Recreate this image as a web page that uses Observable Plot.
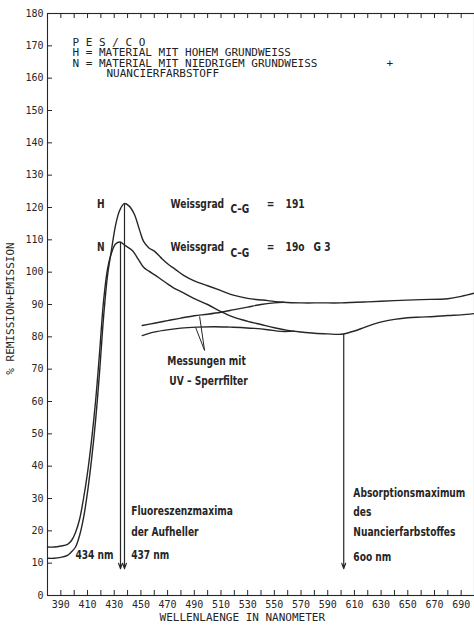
<!DOCTYPE html>
<html><head><meta charset="utf-8">
<script src="https://cdn.jsdelivr.net/npm/d3@7"></script>
<script src="https://cdn.jsdelivr.net/npm/@observablehq/plot@0.6"></script>
<style>
body{margin:0;background:#fff}
svg{display:block}
</style>
</head><body><div id="chart"></div>
<script>
// ---- data ----
const nNm  = [380,385,390,395,398,401,404,407,410,413,416,419,422,425,428,431,434.5,438,443.6,448,452,456,461,465,470,475,480,490,500,510,520,530,540,550,560,570,580,590,600,605,610,618,625,632,640,650,660,670,680,690,700];
const nVal = [15,15,15.3,15.8,17,19.5,23.5,30,38,48,60,75,91,101,106,108.7,109.3,108.3,106.7,104,101.5,100.3,99,97.8,96.4,95,94,91.8,90,87.8,86,84.8,83.8,82.8,82,81.5,81.1,80.9,80.8,81.2,81.8,83,84,84.8,85.4,85.9,86.1,86.3,86.6,86.8,87.2];
const hNm  = [380,385,390,395,398,401,404,407,410,413,416,419,422,425,428,431,434,437.5,441,445,449,452,456,460,465,470,476,482,490,500,510,520,530,545,557,570,585,600,620,640,660,680,690,700];
const hVal = [11.5,11.5,11.8,12.4,13.5,15,18.5,24,32,42,54,69,86,99,107,114.5,119,121.2,120.5,118,113,109.5,107.5,106.5,104.5,102.6,100.8,99,97.3,95.8,94.3,92.8,91.9,91.2,90.7,90.5,90.5,90.5,90.8,91.2,91.5,91.8,92.5,93.5];
const hUvNm  = [451,460,470,480,490,500,510,520,530,540,550,557];
const hUvVal = [83.5,84.2,85,85.8,86.5,87,87.6,88.4,89.2,90,90.5,90.7];
const nUvNm  = [451,458,467,480,492,505,517,525,535,545,555,565];
const nUvVal = [80.4,81.3,82,82.7,83,83.1,83,82.9,82.6,82.2,81.7,81.75];

const xMinorTicks = d3.range(390, 700, 10);
const xLabelTicks = d3.range(390, 700, 20);
const yTicks = d3.range(0, 181, 10);

const headerLines = ["P E S / C O", "H = MATERIAL MIT HOHEM GRUNDWEISS", "N = MATERIAL MIT NIEDRIGEM GRUNDWEISS", "NUANCIERFARBSTOFF", "+"];
const curveLabels = ["H", "N"];
const whiteness = ["191", "19o", "G 3"];
const arrowNm = [434.7, 437.7, 602];
const arrowFrom = [109.3, 121.2, 80.8];
const arrowTo = 8.3;

// ---- layout ----
const W = 474, Ht = 631, mL = 47, mR = 0, mT = 13, mB = 36;
const plotW = W - mL - mR, plotH = Ht - mT - mB;
const rows = (xs, ys) => xs.map((x, i) => ({x, y: ys[i]}));
const ink = "#262626";
const mono = "DejaVu Sans Mono";
const narrow = "DejaVu Sans Condensed";

const headerPos = [[398.7,171.1],[398.7,167.8],[398.7,164.4],[424.2,161.4],[634,164.4]];
const headerData = headerLines.map((t,i)=>({t, x: headerPos[i][0], y: headerPos[i][1]}));

const annoStart = [
  {t:"Weissgrad", x:472.2, y:121.2},
  {t:"C–G", x:517.2, y:119.6},
  {t:whiteness[0], x:558.4, y:121.2},
  {t:"Weissgrad", x:472.2, y:107.7},
  {t:"C–G", x:517.2, y:105.9},
  {t:whiteness[1], x:558.4, y:107.7},
  {t:whiteness[2], x:579.4, y:107.7},
  {t:"Fluoreszenzmaxima", x:442.7, y:26.3},
  {t:"der Aufheller", x:442.7, y:19.8},
  {t:"437 nm", x:442.7, y:12.7},
  {t:"Absorptionsmaximum", x:609.2, y:31.6},
  {t:"des", x:609.2, y:25.8},
  {t:"Nuancierfarbstoffes", x:609.2, y:19.6},
  {t:"6oo nm", x:609.2, y:12.1}
];
const annoMiddle = [
  {t:curveLabels[0], x:420, y:121.2},
  {t:curveLabels[1], x:420, y:107.7},
  {t:"=", x:547.1, y:121.2},
  {t:"=", x:547.1, y:107.7},
  {t:"Messungen mit", x:499.2, y:72.7},
  {t:"UV – Sperrfilter", x:500.7, y:66.5}
];
const annoEnd = [{t:"434 nm", x:429.5, y:12.7}];
const pointers = [
  {x1:497.7, y1:75.8, x2:494, y2:86.3},
  {x1:497.7, y1:75.8, x2:491, y2:82.9}
];
const arrows = arrowNm.map((x,i)=>({x, y1: arrowFrom[i], y2: arrowTo}));

const annoStyle = {fontSize: 13, fontFamily: narrow, fontWeight: "bold", fill: ink};

const chart = Plot.plot({
  width: W, height: Ht,
  marginLeft: mL, marginRight: mR, marginTop: mT, marginBottom: mB,
  style: {background: "#fff", color: ink, fontFamily: mono},
  x: {domain: [380, 700]},
  y: {domain: [0, 180]},
  marks: [
    Plot.frame({stroke: ink, strokeWidth: 1.1}),
    Plot.tickX(xMinorTicks, {x: d => d, insetTop: plotH - 5, stroke: ink}),
    Plot.tickX(xMinorTicks, {x: d => d, insetBottom: plotH - 5, stroke: ink}),
    Plot.tickY(yTicks, {y: d => d, insetRight: plotW - 5, stroke: ink}),
    Plot.axisX({ticks: xLabelTicks, tickSize: 0, tickPadding: 5, fontSize: 10, tickFormat: d => String(d), label: null}),
    Plot.axisY({ticks: yTicks, tickSize: 0, tickPadding: 4, fontSize: 10, tickFormat: d => String(d), label: null}),
    Plot.text(["% REMISSION+EMISSION"], {frameAnchor: "left", textAnchor: "middle", dx: -37, dy: 4, rotate: -90, fontSize: 11, fill: ink}),
    Plot.text(["WELLENLAENGE IN NANOMETER"], {x: 526, frameAnchor: "bottom", dy: 25, fontSize: 11, fill: ink}),
    Plot.line(rows(nNm, nVal), {x: "x", y: "y", curve: "catmull-rom", stroke: ink, strokeWidth: 1.4}),
    Plot.line(rows(hNm, hVal), {x: "x", y: "y", curve: "catmull-rom", stroke: ink, strokeWidth: 1.4}),
    Plot.line(rows(hUvNm, hUvVal), {x: "x", y: "y", curve: "catmull-rom", stroke: ink, strokeWidth: 1.4}),
    Plot.line(rows(nUvNm, nUvVal), {x: "x", y: "y", curve: "catmull-rom", stroke: ink, strokeWidth: 1.4}),
    Plot.arrow(arrows, {x1: "x", x2: "x", y1: "y1", y2: "y2", stroke: ink, strokeWidth: 1.2, headLength: 7, headAngle: 40}),
    Plot.link(pointers, {x1: "x1", y1: "y1", x2: "x2", y2: "y2", stroke: ink, strokeWidth: 1}),
    Plot.text(headerData, {x: "x", y: "y", text: "t", textAnchor: "start", fontSize: 11, fontFamily: mono, fill: "#222"}),
    Plot.text(annoStart, {x: "x", y: "y", text: "t", textAnchor: "start", ...annoStyle}),
    Plot.text(annoMiddle, {x: "x", y: "y", text: "t", textAnchor: "middle", ...annoStyle}),
    Plot.text(annoEnd, {x: "x", y: "y", text: "t", textAnchor: "end", ...annoStyle})
  ]
});
document.getElementById("chart").appendChild(chart);
// compress the annotation lettering horizontally (tall, narrow typewriter look)
d3.select(chart).selectAll('g[font-family="DejaVu Sans Condensed"] text').each(function() {
  const x = +this.getAttribute("x") || 0, y = +this.getAttribute("y") || 0;
  const t = this.getAttribute("transform") || "";
  this.setAttribute("transform", `${t} translate(${x},${y}) scale(0.78,1) translate(${-x},${-y})`);
});
</script>
</body></html>
